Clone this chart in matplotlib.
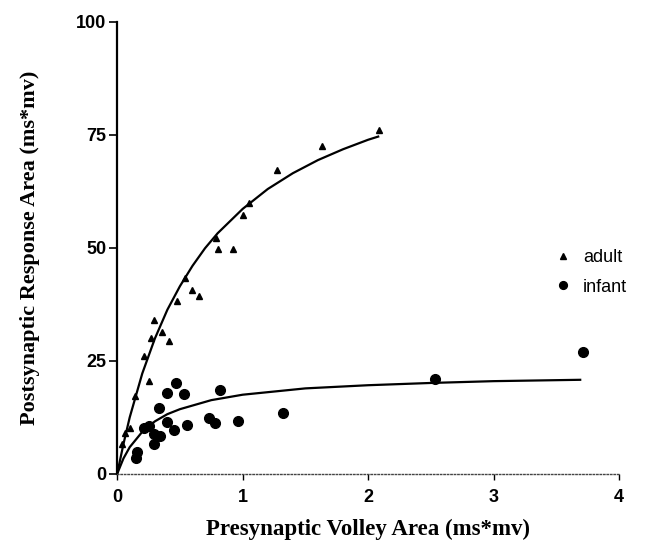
import matplotlib.pyplot as plt

# scatter data
adult_x = [0.04, 0.06, 0.10, 0.14, 0.21, 0.25, 0.27, 0.29, 0.36, 0.41, 0.48,
           0.54, 0.60, 0.65, 0.79, 0.80, 0.92, 1.00, 1.05, 1.27, 1.63, 2.09]
adult_y = [6.6, 9.1, 10.2, 17.3, 26.1, 20.6, 30.1, 34.1, 31.4, 29.4, 38.3,
           43.4, 40.7, 39.4, 52.2, 49.8, 49.8, 57.3, 60.0, 67.3, 72.6, 76.1]

infant_x = [0.15, 0.16, 0.21, 0.25, 0.29, 0.29, 0.33, 0.34, 0.40, 0.40, 0.45,
            0.47, 0.53, 0.56, 0.73, 0.78, 0.82, 0.96, 1.32, 2.53, 3.71]
infant_y = [3.5, 4.9, 10.2, 10.6, 8.8, 6.6, 14.6, 8.4, 17.9, 11.5, 9.7,
            20.1, 17.7, 10.8, 12.4, 11.3, 18.6, 11.7, 13.5, 21.0, 27.0]

# fitted curves, points
adult_fit_x = [0.0, 0.05, 0.1, 0.2, 0.3, 0.4, 0.5, 0.6, 0.7, 0.8, 1.0,
               1.2, 1.4, 1.6, 1.8, 2.0, 2.08]
adult_fit_y = [0.0, 6.6, 12.5, 22.2, 29.9, 36.3, 41.5, 46.0, 49.9, 53.2, 58.6,
               63.0, 66.5, 69.4, 71.8, 73.9, 74.6]
infant_fit_x = [0.0, 0.05, 0.1, 0.2, 0.3, 0.4, 0.5, 0.75, 1.0, 1.5, 2.0,
                2.5, 3.0, 3.69]
infant_fit_y = [0.0, 3.4, 5.9, 9.3, 11.6, 13.2, 14.3, 16.3, 17.5, 18.9, 19.6,
                20.1, 20.5, 20.8]

x_ticks = [0, 1, 2, 3, 4]
y_ticks = [0, 25, 50, 75, 100]

fig = plt.figure(figsize=(6.51, 5.44), dpi=100)
ax = fig.add_axes([0.18, 0.129, 0.771, 0.831])

ax.plot(adult_fit_x, adult_fit_y, color="black", lw=1.6)
ax.plot(infant_fit_x, infant_fit_y, color="black", lw=1.6)
ax.plot(adult_x, adult_y, "^", color="black", ms=5, label="adult")
ax.plot(infant_x, infant_y, "o", color="black", ms=7, label="infant")

ax.set_xlim(0, 4)
ax.set_ylim(0, 100)
ax.set_xticks(x_ticks)
ax.set_yticks(y_ticks)
ax.set_xticklabels([str(t) for t in x_ticks], fontsize=13, fontweight="bold",
                   family="Liberation Sans")
ax.set_yticklabels([str(t) for t in y_ticks], fontsize=13, fontweight="bold",
                   family="Liberation Sans")
ax.tick_params(axis="y", direction="out", length=6, width=1.2, pad=2)
ax.tick_params(axis="x", direction="out", length=4, width=1.0, pad=7)

for side in ["top", "right"]:
    ax.spines[side].set_visible(False)
ax.spines["left"].set_linewidth(1.6)
ax.spines["bottom"].set_linewidth(1.0)
ax.spines["bottom"].set_linestyle((0, (1, 1.5)))
ax.spines["bottom"].set_color("#444444")

ax.set_xlabel("Presynaptic Volley Area (ms*mv)", fontsize=16.5, fontweight="bold",
              family="Liberation Serif", labelpad=9)
ax.set_ylabel("Postsynaptic Response Area (ms*mv)", fontsize=16, fontweight="bold",
              family="Liberation Serif", labelpad=26)

ax.legend(loc="center left", bbox_to_anchor=(0.82, 0.446), frameon=False,
          prop={"family": "Liberation Sans", "size": 13}, handletextpad=0.1,
          labelspacing=0.7, markerscale=0.8)

fig.savefig("out.png", dpi=100)
